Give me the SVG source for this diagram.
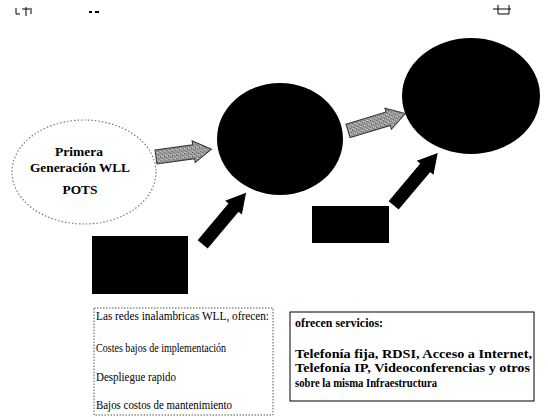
<svg xmlns="http://www.w3.org/2000/svg" width="548" height="417" viewBox="0 0 548 417">
<defs>
<pattern id="speck" width="4" height="4" patternUnits="userSpaceOnUse">
<rect width="4" height="4" fill="#9a9a9a"/>
<rect x="0" y="0" width="1" height="1" fill="#333"/>
<rect x="2" y="2" width="1" height="1" fill="#555"/>
<rect x="3" y="0" width="1" height="1" fill="#ddd"/>
<rect x="1" y="3" width="1" height="1" fill="#eee"/>
</pattern>
</defs>
<style>
.bold{font-family:"Liberation Serif","DejaVu Serif",serif;font-weight:bold;font-size:12.5px;fill:#000}
.reg{font-family:"Liberation Serif","DejaVu Serif",serif;font-size:12px;fill:#000}
.garrow{fill:url(#speck);stroke:#333;stroke-width:1}
.barrow{fill:#000;stroke:#000;stroke-width:1}
.blk{fill:#000}
</style>
<rect width="548" height="417" fill="#fff"/>
<g id="artifacts" stroke="#000" stroke-width="1" fill="none">
<path d="M16 8v6h4M22 9h8M26 7v9M31 8v6"/>
<path d="M89 12h3M95 12h4" stroke-width="2"/>
<path d="M493 9h18M498 5v9h11M509 5v9"/>
</g>
<g id="node-primera">
<ellipse cx="84" cy="172" rx="72" ry="52" fill="#fff" stroke="#777" stroke-width="1.2" stroke-dasharray="1.5 2"/>
<text class="bold" x="79" y="156" text-anchor="middle" textLength="48" lengthAdjust="spacingAndGlyphs">Primera</text>
<text class="bold" x="80" y="172" text-anchor="middle" textLength="100" lengthAdjust="spacingAndGlyphs">Generación WLL</text>
<text class="bold" x="80" y="194" text-anchor="middle" textLength="35" lengthAdjust="spacingAndGlyphs">POTS</text>
</g>
<g id="node-circle1"><ellipse class="blk" cx="280" cy="139" rx="63" ry="56"/></g>
<g id="node-circle2"><ellipse class="blk" cx="471" cy="96" rx="69" ry="58"/></g>
<g id="node-rect1"><rect class="blk" x="92" y="236" width="96" height="58"/></g>
<g id="node-rect2"><rect class="blk" x="312" y="206" width="77" height="37"/></g>
<g id="connectors">
<polygon class="garrow" points="0,-7 38,-7 38,-11 56,0 38,11 38,7 0,7" transform="translate(156,157) rotate(-8)"/>
<polygon class="garrow" points="0,-7 42,-7 42,-11 60,0 42,11 42,7 0,7" transform="translate(348,131) rotate(-17)"/>
<polygon class="barrow" points="0,-6 48,-6 48,-10 66,0 48,10 48,6 0,6" transform="translate(203,244) rotate(-50)"/>
<polygon class="barrow" points="0,-6 49,-6 49,-10 67,0 49,10 49,6 0,6" transform="translate(394,205) rotate(-50)"/>
</g>
<g id="node-box1">
<rect x="94" y="308" width="179" height="107" fill="#fff" stroke="#555" stroke-width="1" stroke-dasharray="1.5 1.5"/>
<text class="reg" x="96" y="320" textLength="173" lengthAdjust="spacingAndGlyphs">Las redes inalambricas WLL, ofrecen:</text>
<text class="reg" x="96" y="352" textLength="130" lengthAdjust="spacingAndGlyphs">Costes bajos de implementación</text>
<text class="reg" x="96" y="381" textLength="80" lengthAdjust="spacingAndGlyphs">Despliegue rapido</text>
<text class="reg" x="96" y="409" textLength="136" lengthAdjust="spacingAndGlyphs">Bajos costos de mantenimiento</text>
</g>
<g id="node-box2">
<rect x="290" y="312" width="244" height="89" fill="#fff" stroke="#000" stroke-width="1"/>
<text class="bold" x="295" y="327" textLength="88" lengthAdjust="spacingAndGlyphs">ofrecen servicios:</text>
<text class="bold" x="295" y="358" textLength="237" lengthAdjust="spacingAndGlyphs">Telefonía fija, RDSI, Acceso a Internet,</text>
<text class="bold" x="295" y="372" textLength="235" lengthAdjust="spacingAndGlyphs">Telefonía IP, Videoconferencias y otros</text>
<text class="bold" x="295" y="387" textLength="142" lengthAdjust="spacingAndGlyphs">sobre la misma Infraestructura</text>
</g>
</svg>
